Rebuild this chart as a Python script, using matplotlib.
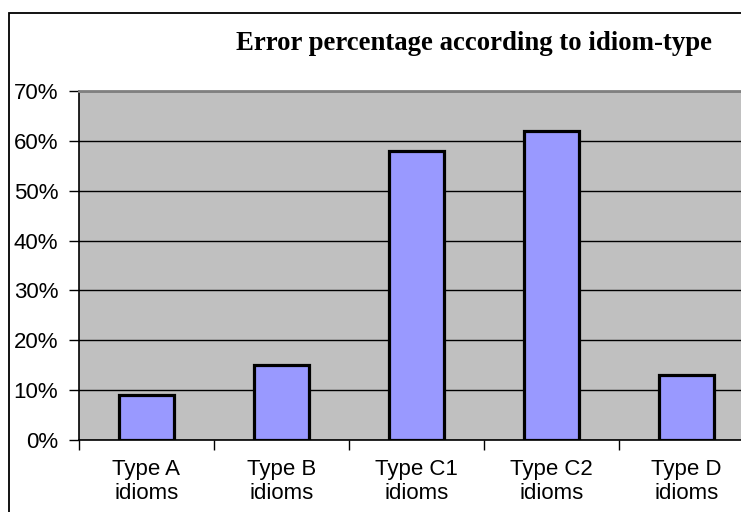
import matplotlib
matplotlib.use("Agg")
import matplotlib.pyplot as plt
from matplotlib.patches import Rectangle
from matplotlib.ticker import PercentFormatter

categories = ["Type A\nidioms", "Type B\nidioms", "Type C1\nidioms", "Type C2\nidioms", "Type D\nidioms"]
values = [9, 15, 58, 62, 13]
yticks = [0, 10, 20, 30, 40, 50, 60, 70]
title = "Error percentage according to idiom-type"

W, H = 741, 512
fig = plt.figure(figsize=(W / 100, H / 100), dpi=100)
fig.patch.set_facecolor("white")

# outer chart border (clipped at right and bottom like the reference)
fig.add_artist(Rectangle((9 / W, -0.05), 1.1, (H - 13) / H + 0.05, transform=fig.transFigure,
                         fill=False, edgecolor="black", linewidth=1.3))

left, right, top, bottom = 79, 754, 91, 440
ax = fig.add_axes([left / W, (H - bottom) / H, (right - left) / W, (bottom - top) / H])
ax.set_facecolor("#C0C0C0")

x = list(range(len(categories)))
ax.bar(x, values, width=0.41, color="#9999FF", edgecolor="black", linewidth=2.3, zorder=3)

ax.set_xlim(-0.5, len(categories) - 0.5)
ax.set_ylim(0, 70)
ax.set_yticks(yticks)
ax.yaxis.set_major_formatter(PercentFormatter(decimals=0))
ax.grid(axis="y", color="black", linewidth=1.0, zorder=1)
ax.set_axisbelow(True)

ax.set_xticks(x)
ax.set_xticklabels(categories, fontsize=16, family="Liberation Sans", linespacing=1.15)
ax.set_xticks([i + 0.5 for i in range(-1, len(categories))], minor=True)
ax.tick_params(axis="x", which="major", length=0, pad=14)
ax.tick_params(axis="x", which="minor", length=7, width=1, direction="out", color="black")
ax.tick_params(axis="y", length=7, width=1, direction="out", pad=8, labelsize=16)
for lab in ax.get_yticklabels():
    lab.set_family("Liberation Sans")

for s in ["left", "bottom"]:
    ax.spines[s].set_color("black")
    ax.spines[s].set_linewidth(1.2)
ax.spines["right"].set_visible(False)
ax.spines["top"].set_color("#808080")
ax.spines["top"].set_linewidth(2)

fig.text(473.5 / W, 1 - 43 / H, title, ha="center", va="center",
         fontsize=19.3, fontweight="bold", family="Liberation Serif")

fig.savefig("out.png", dpi=100)
